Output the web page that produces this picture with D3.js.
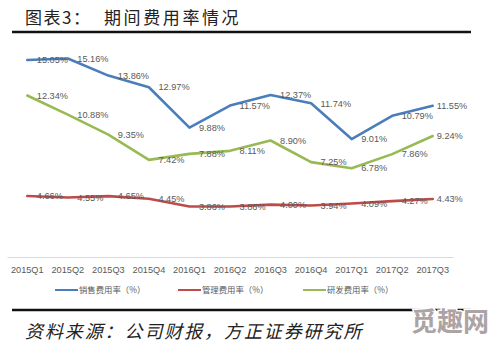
<!DOCTYPE html>
<html><head><meta charset="utf-8">
<script src="https://cdn.jsdelivr.net/npm/d3@7/dist/d3.min.js"></script>
<style>body{margin:0;background:#fff}svg{display:block}</style>
</head><body>
<script>
const categories = ["2015Q1","2015Q2","2015Q3","2015Q4","2016Q1","2016Q2","2016Q3","2016Q4","2017Q1","2017Q2","2017Q3"];
const salesRate = [15.05,15.16,13.86,12.97,9.88,11.57,12.37,11.74,9.01,10.79,11.55];
const mgmtRate  = [4.66,4.55,4.65,4.45,3.86,3.86,4.00,3.94,4.09,4.27,4.43];
const rdRate    = [12.34,10.88,9.35,7.42,7.88,8.11,8.90,7.25,6.78,7.86,9.24];
const seriesNames = ["销售费用率（%）","管理费用率（%）","研发费用率（%）"];
const colors = ["#4a7ebb","#be4b48","#98b954"];
const series = [salesRate, mgmtRate, rdRate];

const W = 499, H = 343;
const svg = d3.select("body").append("svg").attr("width", W).attr("height", H);
const cjk = "'Noto Sans CJK SC','Noto Sans',sans-serif";

// title
svg.append("text").attr("x", 25).attr("y", 24).attr("font-family", cjk)
  .attr("font-size", 17).attr("fill", "#222").attr("letter-spacing", 1.5).text("图表3：");
svg.append("text").attr("x", 104).attr("y", 24).attr("font-family", cjk)
  .attr("font-size", 17).attr("fill", "#222").attr("letter-spacing", 2.6).text("期间费用率情况");
svg.append("line").attr("x1", 12).attr("x2", 471).attr("y1", 32).attr("y2", 32)
  .attr("stroke", "#111").attr("stroke-width", 2.5);

const x = d3.scaleBand().domain(categories).range([7, 453]).paddingInner(0).paddingOuter(0);
const y = d3.scaleLinear().domain([0, 18]).range([257, 21.4]);
const cx = d => x(d) + x.bandwidth() / 2;

// x axis
const ax = svg.append("g").attr("transform", "translate(0,257)")
  .call(d3.axisBottom(x).tickSize(0).tickPadding(9));
ax.select(".domain").attr("stroke", "#d9d9d9").attr("stroke-width", 1);
ax.selectAll("text").attr("font-family", "'Liberation Sans',Arial,sans-serif")
  .attr("font-size", 9.2).attr("fill", "#595959");

// lines
const line = d3.line().x((d, i) => cx(categories[i])).y(d => y(d));
series.forEach((s, k) => {
  svg.append("path").datum(s).attr("d", line).attr("fill", "none")
    .attr("stroke", colors[k]).attr("stroke-width", 2.6)
    .attr("stroke-linejoin", "round").attr("stroke-linecap", "round");
});
// labels
series.forEach((s, k) => {
  svg.append("g").selectAll("text").data(s).join("text")
    .attr("x", (d, i) => cx(categories[i]) + (i === s.length - 1 ? 4 : 9.5))
    .attr("y", d => y(d)).attr("dy", "0.35em")
    .attr("font-family", "'Liberation Sans',Arial,sans-serif")
    .attr("font-size", 9.2).attr("fill", "#595959")
    .text(d => d.toFixed(2) + "%");
});

// legend
const legX = [55, 178, 303];
seriesNames.forEach((n, k) => {
  svg.append("line").attr("x1", legX[k]).attr("x2", legX[k] + 23).attr("y1", 290).attr("y2", 290)
    .attr("stroke", colors[k]).attr("stroke-width", 2);
  svg.append("text").attr("x", legX[k] + 24).attr("y", 293).attr("font-family", cjk)
    .attr("font-size", 8.4).attr("fill", "#595959").text(n);
});

// bottom rule and source
svg.append("line").attr("x1", 12).attr("x2", 471).attr("y1", 310).attr("y2", 310)
  .attr("stroke", "#111").attr("stroke-width", 2.5);
svg.append("text").attr("x", 25).attr("y", 338).attr("font-family", cjk)
  .attr("font-size", 18).attr("font-style", "italic").attr("fill", "#222")
  .attr("letter-spacing", 1.9).text("资料来源：公司财报，方正证券研究所");
// watermark
svg.append("text").attr("x", 411).attr("y", 331).attr("font-family", cjk)
  .attr("font-size", 26).attr("font-weight", "bold").attr("fill", "#aca4a4")
  .attr("stroke", "#fff").attr("stroke-width", 3).attr("paint-order", "stroke")
  .text("觅趣网");
</script>
</body></html>
